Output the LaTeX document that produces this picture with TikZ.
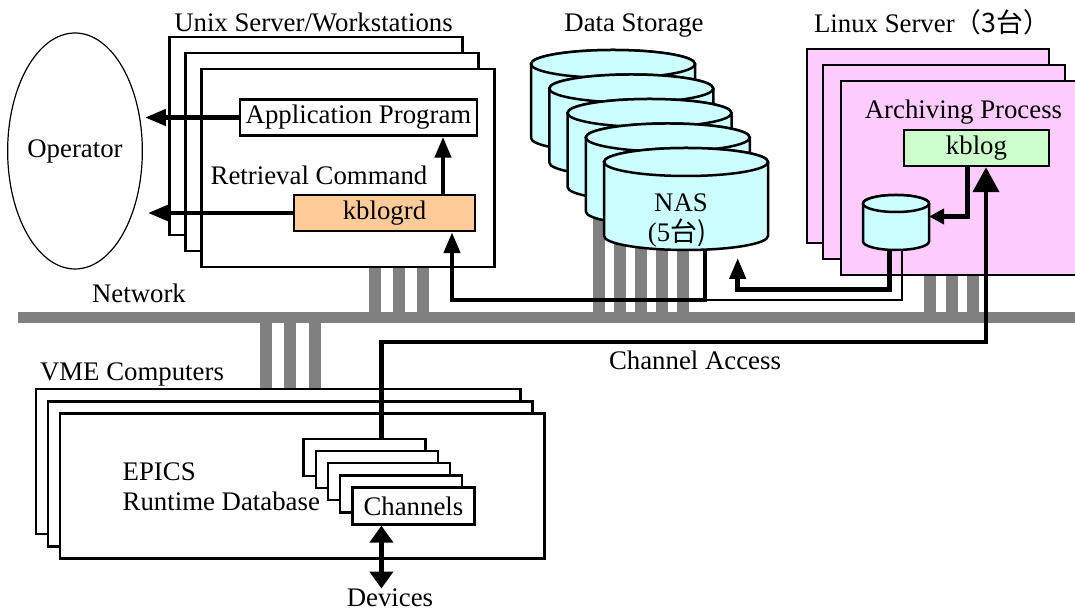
\documentclass[tikz,border=0pt]{standalone}
\usepackage{fontspec}
\setmainfont{Liberation Serif}
\newfontfamily\cjk{Noto Sans CJK JP}
\usetikzlibrary{arrows.meta,shapes.geometric}

\definecolor{procorange}{HTML}{FFCC99}
\definecolor{kbgreen}{HTML}{CCFFCC}
\definecolor{linuxpink}{HTML}{FFCCFF}
\definecolor{diskcyan}{HTML}{CCFFFF}
\definecolor{netgray}{HTML}{808080}

\newcommand{\drawdisk}[3]{%
  \filldraw[disk] ([yshift=-#3]#1.north west) -- ([yshift=#3]#1.south west)
    arc[start angle=180, end angle=360, x radius=#2, y radius=#3]
    -- ([yshift=-#3]#1.north east)
    arc[start angle=0, end angle=180, x radius=#2, y radius=#3] -- cycle;
  \filldraw[disk] ([yshift=-#3]#1.north) ellipse[x radius=#2, y radius=#3];
}

\begin{document}
\begin{tikzpicture}
  [x=1pt, y=1pt,
   every node/.style={font=\fontsize{26.8}{31}\selectfont},
   lbl/.style={inner sep=0pt, anchor=base},
   hostbox/.style={draw, line width=2.5pt, fill=white, inner sep=0pt},
   procbox/.style={draw, line width=2.5pt, fill=white, inner sep=0pt},
   diskbox/.style={inner sep=0pt, outer sep=0pt},
   disk/.style={draw, fill=diskcyan, line width=2.5pt},
   oper/.style={ellipse, draw, line width=1.2pt, inner sep=0pt, minimum width=129, minimum height=236},
   netbar/.style={fill=netgray, inner sep=0pt, outer sep=0pt},
   stub/.style={draw=netgray, line width=12pt},
   conn/.style={line width=4.5pt, -{Triangle[length=21pt,width=16pt]}},
   thinconn/.style={line width=2.2pt},
   dbl/.style={line width=4.5pt, {Triangle[length=17pt,width=23pt]}-{Triangle[length=17pt,width=23pt]}}]

  \useasboundingbox (0,0) rectangle (1075,612);
  \clip (0,0) rectangle (1075,612);

  \node[netbar, minimum width=1057, minimum height=11.5] (net) at (546.5,294.25) {};
  \foreach \x in {375,398.6,422.7} \draw[stub] (\x,300) -- (\x,400);
  \foreach \x in {599,620,641,662,683} \draw[stub] (\x,300) -- (\x,460);
  \foreach \x in {930,952,973} \draw[stub] (\x,300) -- (\x,400);
  \foreach \x in {266,290,315} \draw[stub] (\x,288.5) -- (\x,198);
  \node[lbl] (netlbl) at (139,309) {Network};

  \node[oper] (op) at (75,461) {Operator};

  \foreach \i/\x/\y in {1/316/476, 2/332/460, 3/348/444}
    \node[hostbox, minimum width=293, minimum height=198] (unix\i) at (\x,\y) {};
  \node[lbl] (unixlbl) at (313.5,580) {Unix Server/Workstations};
  \node[procbox, minimum width=237, minimum height=36] (app) at (358.5,494.5) {Application Program};
  \node[lbl] (rclbl) at (319,427) {Retrieval Command};
  \node[procbox, fill=procorange, minimum width=181, minimum height=36] (krd) at (384.5,399) {kblogrd};

  \foreach \i in {0,...,4} {
    \node[diskbox, minimum width=164, minimum height=102] (nas\i) at ({613+18.25*\i},{511-24.5*\i}) {};
    \drawdisk{nas\i}{82pt}{14pt}
  }
  \node[lbl] (dslbl) at (634,580) {Data Storage};
  \node[lbl] (naslbl) at (681,400.3) {NAS};
  \node[lbl] (nasnum) at (677,370.3) {(5\cjk{台})};

  \foreach \i/\x/\y in {1/928/466, 2/944/450, 3/962/434}
    \node[hostbox, fill=linuxpink, minimum width=242, minimum height=194] (lin\i) at (\x,\y) {};
  \node[lbl] (linlbl) at (932,579) {Linux Server\cjk{（}3\cjk{台）}};
  \node[lbl] (arclbl) at (963.5,493.7) {Archiving Process};
  \node[procbox, fill=kbgreen, minimum width=145, minimum height=36] (kblog) at (976.5,464) {kblog};
  \node[diskbox, minimum width=66, minimum height=55] (db) at (896,389.5) {};
  \drawdisk{db}{33pt}{8.5pt}

  \foreach \i/\x/\y in {1/278/150.5, 2/290.2/138.2, 3/302.4/126}
    \node[hostbox, minimum width=484.5, minimum height=145] (vme\i) at (\x,\y) {};
  \node[lbl] (vmelbl) at (132,231.3) {VME Computers};
  \node[lbl, anchor=base west] (epics) at (122.5,131.3) {EPICS};
  \node[lbl, anchor=base west] (rtdb) at (122.5,101.3) {Runtime Database};
  \foreach \i in {0,...,3}
    \node[procbox, minimum width=122, minimum height=37] (ch\i) at ({364.6+12.2*\i},{154.5-12.1*\i}) {};
  \node[procbox, minimum width=122, minimum height=37] (ch4) at (413.4,106.1) {Channels};
  \node[lbl] (dev) at (390,5.5) {Devices};
  \node[lbl] (calbl) at (695,242) {Channel Access};

  \draw[conn, shorten >=2pt] (app.west) -- (app.west -| op.east);
  \draw[conn, shorten >=5pt] (krd.west) -- (krd.west -| op.east);
  \coordinate (kup) at ([xshift=58.5pt]krd.north);
  \draw[conn] (kup) -- (kup |- app.south);

  \coordinate (nasfoot) at ([xshift=19pt,yshift=-50pt]nas4.south);
  \draw[conn] ([xshift=19pt]nas4.south) -- (nasfoot) -| ([xshift=67.5pt]krd.south);
  \draw[thinconn] ([xshift=5.6pt]db.south) |- (nasfoot);
  \draw[conn] ([xshift=-6.7pt]db.south) -- ++(0,-39.5) -| ([xshift=51.7pt,yshift=-8pt]nas4.south);
  \draw[conn, -{Triangle[length=15pt,width=15pt]}] ([xshift=-8.8pt]kblog.south) |- ([yshift=6pt]db.east);

  \draw[conn, -{Triangle[length=25pt,width=26pt]}] ([xshift=16.8pt]ch0.north) -- ++(0,95.7) -| ([xshift=9.5pt]kblog.south);
  \coordinate (chfoot) at ([xshift=-32pt]ch4.south);
  \draw[dbl] (chfoot) -- (chfoot |- dev.north);
\end{tikzpicture}
\end{document}
